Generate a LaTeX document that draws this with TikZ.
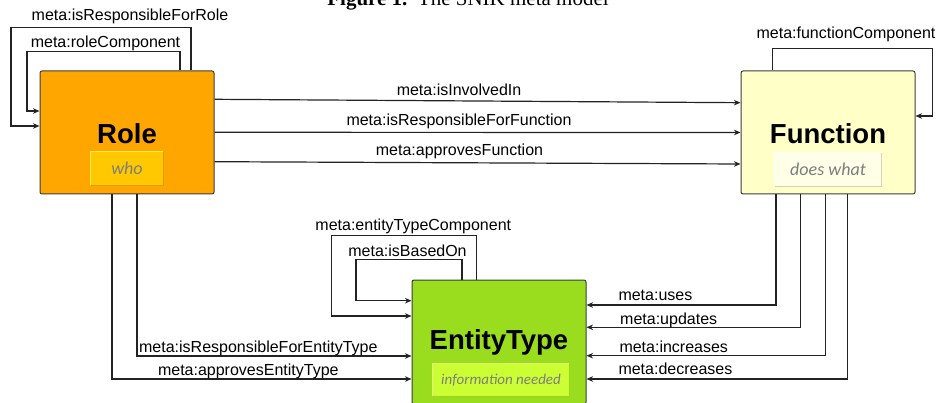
\documentclass[tikz,border=0pt]{standalone}
\usepackage{fontspec}
\setmainfont{Liberation Sans}
\newfontfamily\captionfont{Liberation Serif}
\newfontfamily\notefont{Carlito}
\usetikzlibrary{arrows.meta}

\definecolor{rolefill}{RGB}{255,166,0}
\definecolor{whofill}{RGB}{255,200,0}
\definecolor{wholight}{RGB}{255,236,80}
\definecolor{whodark}{RGB}{214,160,0}
\definecolor{funcfill}{RGB}{255,255,200}
\definecolor{whatfill}{RGB}{255,255,232}
\definecolor{whatlight}{RGB}{255,255,250}
\definecolor{whatdark}{RGB}{210,210,190}
\definecolor{entfill}{RGB}{153,221,30}
\definecolor{needfill}{RGB}{204,255,51}
\definecolor{needlight}{RGB}{230,255,120}
\definecolor{needdark}{RGB}{160,210,30}
\definecolor{boxline}{RGB}{60,60,60}
\definecolor{linkline}{RGB}{35,35,35}
\definecolor{notegray}{RGB}{125,125,125}

\begin{document}
\begin{tikzpicture}[x=1pt,y=-1pt,
  classbox/.style={draw=boxline,line width=1pt,rounded corners=2pt,
    minimum width=174pt,minimum height=123pt,inner sep=0pt},
  titletext/.style={font=\bfseries\fontsize{27.5}{30}\selectfont,inner sep=0pt},
  notebox/.style={minimum height=33pt,inner sep=0pt,
    font=\notefont\itshape\fontsize{18}{20}\selectfont,text=notegray},
  bevel/.style={line width=1pt},
  link/.style={draw=linkline,line width=1.2pt,
    -{Stealth[length=6.5pt,width=5.5pt,inset=2pt]}},
  lbl/.style={font=\fontsize{16}{18}\selectfont,inner sep=0pt}]

\clip (0,0) rectangle (939,403);
\useasboundingbox (0,0) rectangle (939,403);

% caption line, mostly above the page edge
\node[anchor=base,inner sep=0pt,font=\captionfont\fontsize{21}{24}\selectfont]
  (caption) at (468,5.5) {\textbf{Figure 1.}\enspace The SNIK meta model};

% classes
\node[classbox,fill=rolefill] (role) at (127,132.5) {};
\node[titletext] (roletitle) at (127,134) {Role};
\node[notebox,fill=whofill,minimum width=72pt] (who) at (127,168.5) {who};
\draw[bevel,wholight] (who.south west) -- (who.north west) -- (who.north east);
\draw[bevel,whodark] (who.north east) -- (who.south east) -- (who.south west);

\node[classbox,fill=funcfill] (function) at (828,132.5) {};
\node[titletext] (functitle) at (828,133.5) {Function};
\node[notebox,fill=whatfill,minimum width=106pt] (what) at (828,169.5) {does what};
\draw[bevel,whatlight] (what.south west) -- (what.north west) -- (what.north east);
\draw[bevel,whatdark] (what.north east) -- (what.south east) -- (what.south west);

\node[classbox,fill=entfill,minimum height=124pt] (entity) at (499,342) {};
\node[titletext] (enttitle) at (499,342.5) {EntityType};
\node[notebox,fill=needfill,minimum width=136pt,minimum height=32pt,
  font=\notefont\itshape\fontsize{15}{17}\selectfont] (need) at (501,380) {information needed};
\draw[bevel,needlight] (need.south west) -- (need.north west) -- (need.north east);
\draw[bevel,needdark] (need.north east) -- (need.south east) -- (need.south west);

% Role self loops
\draw[link] ([xshift=64pt]role.north) -- ++(0,-43) -- ++(-180,0) |- ([yshift=6.5pt]role.west);
\draw[link] ([xshift=53pt]role.north) -- ++(0,-19) -- ++(-153,0) |- ([yshift=21.5pt]role.west);
\node[lbl] (l1) at (130,16) {meta:isResponsibleForRole};
\node[lbl] (l2) at (105.5,43) {meta:roleComponent};

% Role to Function
\draw[link] ([yshift=33.2pt]role.east) -- ([yshift=29.8pt]function.west);
\draw[link] ([yshift=0.2pt]role.east) -- (function.west);
\draw[link] ([yshift=-29.2pt]role.east) -- ([yshift=-31.5pt]function.west);
\node[lbl] (l3) at (459,90) {meta:isInvolvedIn};
\node[lbl] (l4) at (459,121.7) {meta:isResponsibleForFunction};
\node[lbl] (l5) at (459.5,151.7) {meta:approvesFunction};

% Function self loop
\draw[link] ([xshift=-55.3pt]function.north) -- ++(0,-22) -- ++(160,0) |- ([yshift=16.5pt]function.east);
\node[lbl] (l6) at (846,34) {meta:functionComponent};

% Role to EntityType
\draw[link] ([xshift=10pt]role.south) |- ([yshift=-14pt]entity.west);
\draw[link] ([xshift=-15pt]role.south) |- ([yshift=-37pt]entity.west);
\node[lbl] (l7) at (258.3,348.3) {meta:isResponsibleForEntityType};
\node[lbl] (l8) at (248.3,371.7) {meta:approvesEntityType};

% EntityType self loops
\draw[link] ([xshift=-22.3pt]entity.north) -- ++(0,-44.3) -- ++(-145,0) |- ([yshift=26pt]entity.west);
\draw[link] ([xshift=-37pt]entity.north) -- ++(0,-20) -- ++(-106,0) |- ([yshift=41.3pt]entity.west);
\node[lbl] (l9) at (413.3,226) {meta:entityTypeComponent};
\node[lbl] (l10) at (407.5,250.7) {meta:isBasedOn};

% Function to EntityType
\draw[link] ([xshift=-52pt]function.south) |- ([yshift=37pt]entity.east);
\draw[link] ([xshift=-27.3pt]function.south) |- ([yshift=14.7pt]entity.east);
\draw[link] ([xshift=-2.3pt]function.south) |- ([yshift=-13.7pt]entity.east);
\draw[link] ([xshift=19.3pt]function.south) |- ([yshift=-37pt]entity.east);
\node[lbl,anchor=west] (l11) at (618.3,295) {meta:uses};
\node[lbl,anchor=west] (l12) at (620,320) {meta:updates};
\node[lbl,anchor=west] (l13) at (619.3,346.7) {meta:increases};
\node[lbl,anchor=west] (l14) at (618.3,369) {meta:decreases};
\end{tikzpicture}
\end{document}
